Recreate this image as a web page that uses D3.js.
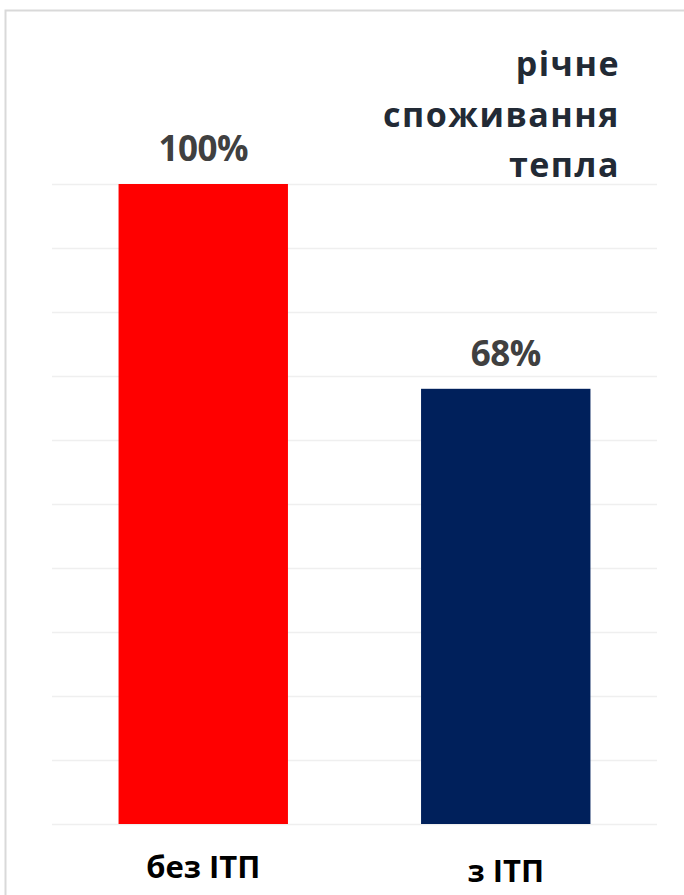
<!DOCTYPE html>
<html>
<head>
<meta charset="utf-8">
<script src="https://cdn.jsdelivr.net/npm/d3@7"></script>
<style>
  body { margin: 0; background: #fff; }
  svg { display: block; }
</style>
</head>
<body>
<svg id="chart" width="684" height="895"></svg>
<script>
// categories and values
const categories = ['без ІТП', 'з ІТП']
const values = [1.00, 0.68]
const valueLabels = ['100%', '68%']
const barColors = ['#ff0000', '#00205b']
const titleLines = ['річне', 'споживання', 'тепла']
const gridTicks = d3.range(0, 11).map(i => i / 10)

let svg = d3.select('#chart')

let margin = {left: 52, right: 27, top: 184, bottom: 71},
    width = +svg.attr('width') - margin.left - margin.right,
    height = +svg.attr('height') - margin.top - margin.bottom

// chart border
svg.append('rect')
   .attr('x', 5.5).attr('y', 10.5)
   .attr('width', 700).attr('height', 900)
   .attr('fill', 'none')
   .attr('stroke', '#d9d9d9')
   .attr('stroke-width', 2)

let g = svg.append('g')
   .attr('transform', 'translate(' + margin.left + ',' + margin.top + ')')

let x = d3.scaleBand().domain(categories).range([0, width])
          .paddingInner(0.44).paddingOuter(0.22)
let y = d3.scaleLinear().domain([0, 1]).range([height, 0])

// gridlines
g.append('g')
 .call(d3.axisLeft(y).tickValues(gridTicks).tickSize(-width).tickFormat(''))
 .call(a => a.select('.domain').remove())
 .selectAll('line')
   .attr('stroke', '#efefef')
   .attr('stroke-width', 1.5)

// bars
g.selectAll('.bar')
 .data(values)
 .enter()
 .append('rect')
   .attr('class', 'bar')
   .attr('x', (d, i) => x(categories[i]))
   .attr('y', d => y(d))
   .attr('width', x.bandwidth())
   .attr('height', d => height - y(d))
   .attr('fill', (d, i) => barColors[i])

// value labels
g.selectAll('.vlabel')
 .data(values)
 .enter()
 .append('text')
   .attr('x', (d, i) => x(categories[i]) + x.bandwidth() / 2)
   .attr('y', d => y(d) - 23)
   .attr('text-anchor', 'middle')
   .attr('font-family', 'Open Sans, sans-serif')
   .attr('font-weight', 'bold')
   .attr('font-size', 35)
   .attr('letter-spacing', -0.5)
   .attr('fill', '#404040')
   .text((d, i) => valueLabels[i])

// category labels
g.selectAll('.clabel')
 .data(categories)
 .enter()
 .append('text')
   .attr('x', d => x(d) + x.bandwidth() / 2)
   .attr('y', (d, i) => height + 54 + i * 4)
   .attr('text-anchor', 'middle')
   .attr('font-family', 'Open Sans, sans-serif')
   .attr('font-weight', 'bold')
   .attr('font-size', 31)
   .attr('fill', '#000')
   .text(d => d)

// title
svg.selectAll('.title')
   .data(titleLines)
   .enter()
   .append('text')
     .attr('x', 620)
     .attr('y', (d, i) => 76 + i * 50.5)
     .attr('text-anchor', 'end')
     .attr('font-family', 'Open Sans, sans-serif')
     .attr('font-weight', 'bold')
     .attr('font-size', 34)
     .attr('letter-spacing', 1.5)
     .attr('fill', '#222a35')
     .text(d => d)
</script>
</body>
</html>
